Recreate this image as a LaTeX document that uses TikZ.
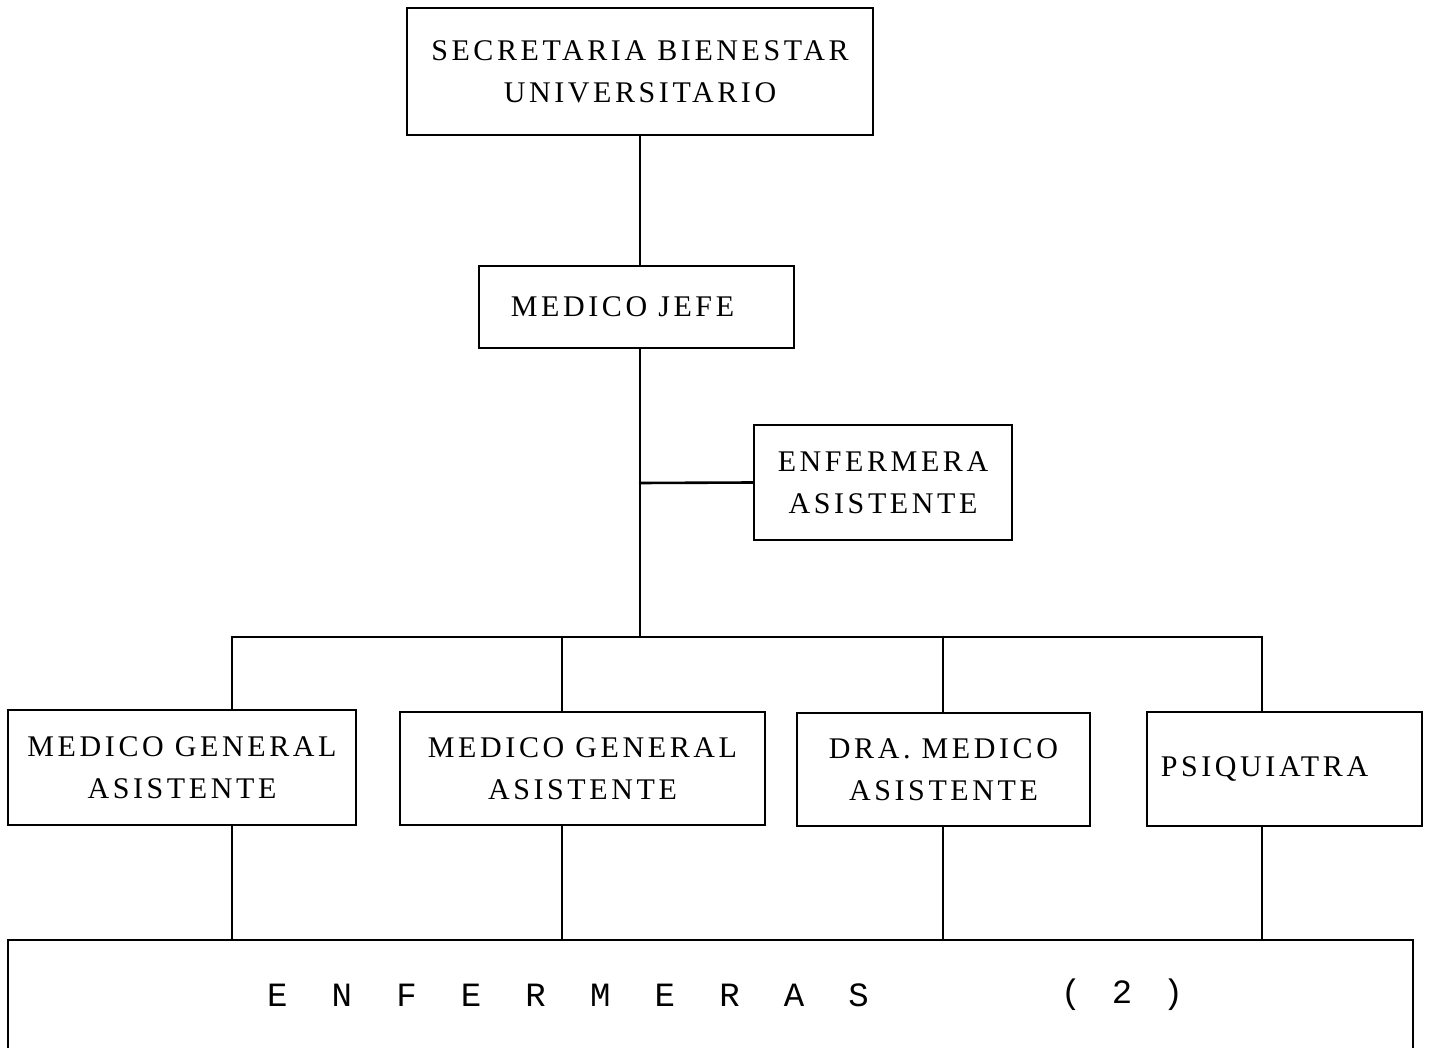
\documentclass[tikz,border=0pt]{standalone}
\usepackage{fontspec}
\setmainfont{Liberation Serif}[LetterSpace=12]
\newfontfamily\spacedfont{Liberation Mono}[LetterSpace=70]
\newfontfamily\countfont{Liberation Mono}[LetterSpace=30]
\usetikzlibrary{positioning}

\begin{document}
\begin{tikzpicture}[x=0.5pt, y=-0.5pt,
  line cap=round, line join=miter,
  orgbox/.style={draw, line width=1.3pt, inner sep=0pt, align=center,
                 font=\fontsize{15}{21}\selectfont},
  link/.style={line width=1.3pt}]

\clip (0,0) rectangle (1431,1048);
\fill[white] (0,0) rectangle (1431,1048);

% ---- top of the chart -------------------------------------------------
\node[orgbox, minimum width=233pt, minimum height=63.5pt] (sec) at (640,71.5)
  {SECRETARIA BIENESTAR\\UNIVERSITARIO};
\node[orgbox, minimum width=157.5pt, minimum height=41pt] (jefe) at (636.5,307)
  {MEDICO JEFE\hspace*{14pt}};
\node[orgbox, minimum width=129pt, minimum height=57.5pt] (enf) at (883,482.5)
  {ENFERMERA\\ASISTENTE};

\draw[link] (sec.south) -- (sec.south |- jefe.north);

\coordinate (side) at (640,483);
\coordinate (bus) at (640,637);
\draw[link] (jefe.south -| bus) -- (bus);
\draw[link] (side) -- (enf.west);

% ---- the four staff boxes ---------------------------------------------
\node[orgbox, minimum width=174pt, minimum height=57.5pt] (gen1) at (182,767.5)
  {MEDICO GENERAL\\ASISTENTE};
\node[orgbox, minimum width=182.5pt, minimum height=56.5pt] (gen2) at (582.5,768.5)
  {MEDICO GENERAL\\ASISTENTE};
\node[orgbox, minimum width=146.5pt, minimum height=56.5pt] (dra) at (943.5,769.5)
  {DRA. MEDICO\\ASISTENTE};
\node[orgbox, minimum width=137.5pt, minimum height=57pt] (psi) at (1284.5,769)
  {PSIQUIATRA\hspace*{20pt}};

% ---- nurses, cut by the page edge -------------------------------------
\node[draw, line width=1.3pt, minimum width=702.5pt, minimum height=70pt,
      inner sep=0pt] (enfs) at (710.5,1010) {};
\node[font=\spacedfont\fontsize{17}{20}\selectfont] (enfsword) at (568,995)
  {E N F E R M E R A S};
\node[font=\countfont\fontsize{17}{20}\selectfont] (enfscount) at (1122,995)
  {( 2 )};

% ---- bus and drops ----------------------------------------------------
\coordinate (d1) at (232,637);
\coordinate (d2) at (562,637);
\coordinate (d3) at (943,637);
\coordinate (d4) at (1262,637);
\draw[link] (d1) -- (d4);
\foreach \i/\n in {1/gen1, 2/gen2, 3/dra, 4/psi}{
  \draw[link] (d\i) -- (d\i |- \n.north);
  \draw[link] (d\i |- \n.south) -- (d\i |- enfs.north);}

\end{tikzpicture}
\end{document}
